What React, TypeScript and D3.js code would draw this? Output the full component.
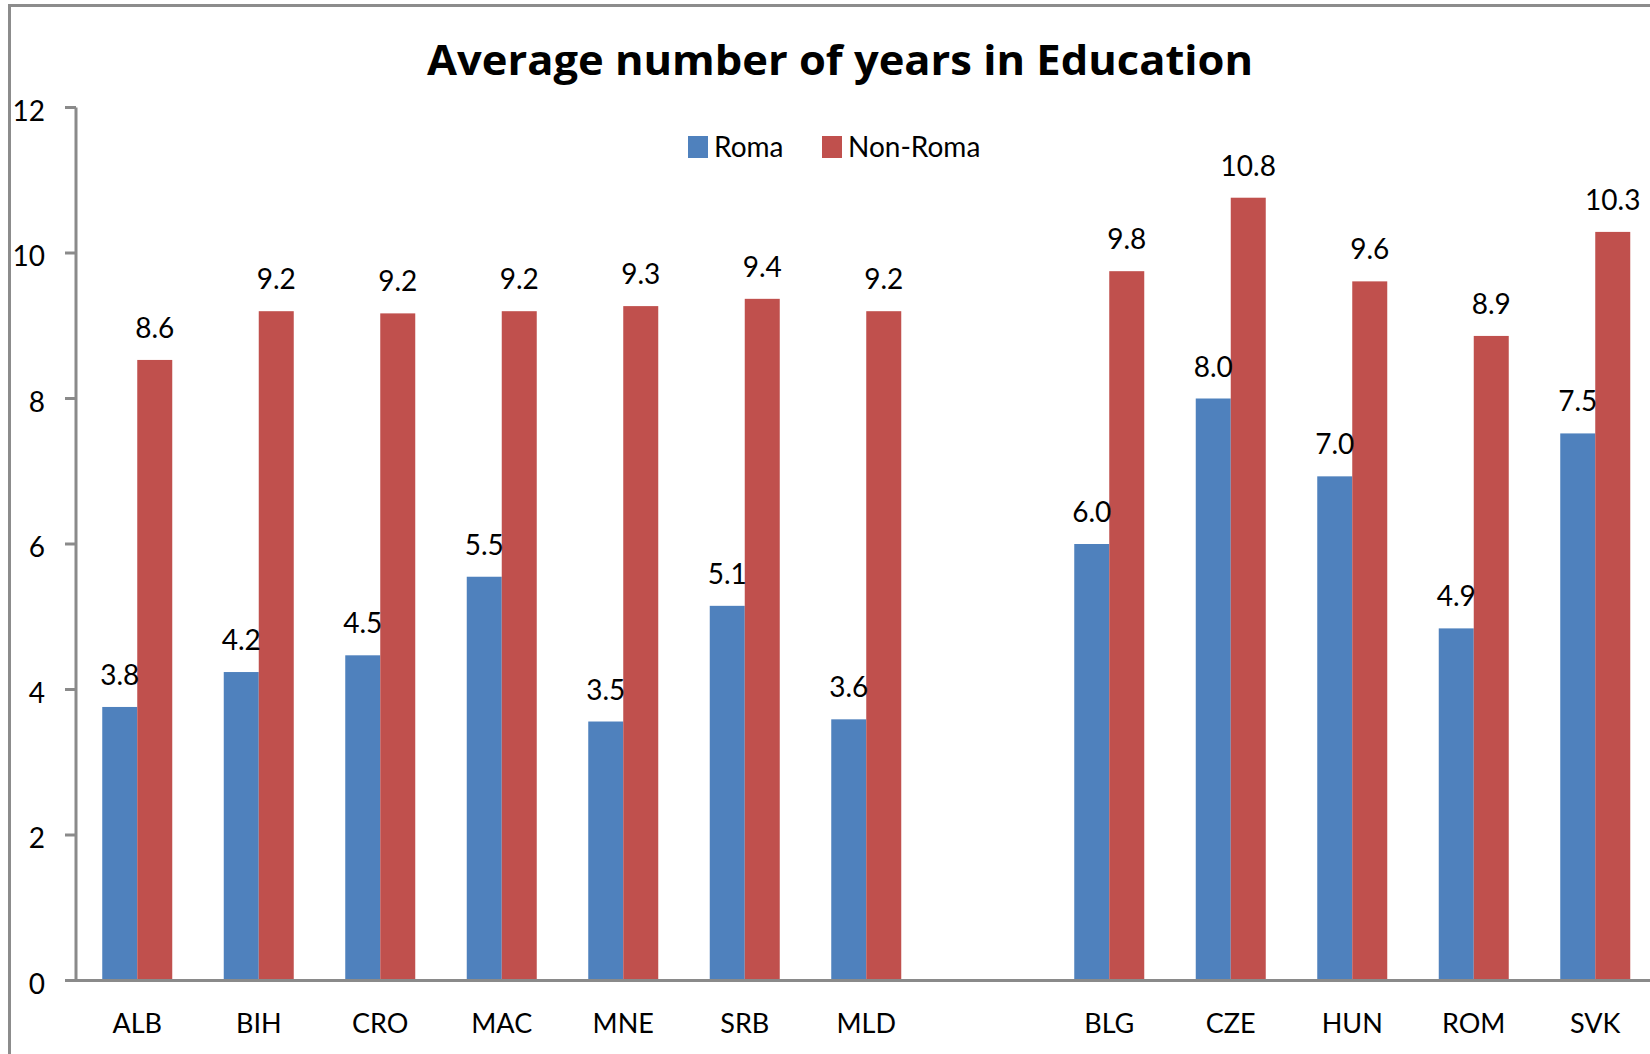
import React, { useEffect } from "react";
import * as d3 from "d3";

// ---- Data ----
const groupWest = ["ALB", "BIH", "CRO", "MAC", "MNE", "SRB", "MLD"];
const groupEU = ["BLG", "CZE", "HUN", "ROM", "SVK"];
const categories = [...groupWest, ...groupEU];
const seriesNames = ["Roma", "Non-Roma"];
const romaValues = [3.76, 4.24, 4.47, 5.55, 3.56, 5.15, 3.59, 6.0, 8.0, 6.93, 4.84, 7.52];
const nonRomaValues = [8.53, 9.2, 9.17, 9.2, 9.27, 9.37, 9.2, 9.75, 10.76, 9.61, 8.86, 10.29];
const romaLabels = ["3.8", "4.2", "4.5", "5.5", "3.5", "5.1", "3.6", "6.0", "8.0", "7.0", "4.9", "7.5"];
const nonRomaLabels = ["8.6", "9.2", "9.2", "9.2", "9.3", "9.4", "9.2", "9.8", "10.8", "9.6", "8.9", "10.3"];
const yTicks = [0, 2, 4, 6, 8, 10, 12];
const title = "Average number of years in Education";

const W = 1650;
const H = 1054;
const FONT = "Lato, 'Open Sans', sans-serif";
const TITLE_FONT = "'Open Sans', Lato, sans-serif";
const COLORS = ["#4f81bd", "#c0504d"];
const AXIS = "#8a8a8a";

export default function App() {
  useEffect(() => {
    document.body.style.margin = "0";
    document.body.style.overflow = "hidden";
  }, []);

  const slots = [...groupWest, "__gap__", ...groupEU];
  const x0 = d3.scaleBand<string>().domain(slots).range([76.5, 76.5 + 121.5 * slots.length]).padding(0);
  const barW = 35;
  const x1 = d3
    .scaleBand<string>()
    .domain(seriesNames)
    .range([x0.bandwidth() / 2 - barW, x0.bandwidth() / 2 + barW])
    .padding(0);
  const y = d3.scaleLinear().domain([0, 12]).range([980.5, 107.5]);

  const series = [
    { name: seriesNames[0], values: romaValues, labels: romaLabels, color: COLORS[0] },
    { name: seriesNames[1], values: nonRomaValues, labels: nonRomaLabels, color: COLORS[1] },
  ];

  return (
    <svg width={W} height={H} style={{ display: "block", background: "#fff" }} fontFamily={FONT}>
      <rect x={0} y={0} width={W} height={H} fill="#fff" />
      {/* outer chart border (cropped on right/bottom) */}
      <rect x={9.5} y={5.5} width={W + 50} height={H + 50} fill="none" stroke="#8c8c8c" strokeWidth={3} />

      {/* title */}
      <text
        x={840}
        y={75}
        textAnchor="middle"
        fontWeight="bold"
        fontSize={42}
        fontFamily={TITLE_FONT}
        textLength={826}
        lengthAdjust="spacingAndGlyphs"
        fill="#000"
      >
        {title}
      </text>

      {/* bars */}
      {series.map((s) =>
        categories.map((c, i) => {
          const bx = (x0(c) as number) + (x1(s.name) as number);
          return (
            <rect
              key={s.name + c}
              x={bx}
              y={y(s.values[i])}
              width={x1.bandwidth()}
              height={y(0) - y(s.values[i])}
              fill={s.color}
            />
          );
        })
      )}

      {/* data labels */}
      {series.map((s) =>
        categories.map((c, i) => {
          const cx = (x0(c) as number) + (x1(s.name) as number) + x1.bandwidth() / 2;
          return (
            <text key={"l" + s.name + c} x={cx} y={y(s.values[i]) - 22} textAnchor="middle" fontSize={28} fill="#000">
              {s.labels[i]}
            </text>
          );
        })
      )}

      {/* y axis */}
      <line x1={76} x2={76} y1={y(12)} y2={y(0)} stroke={AXIS} strokeWidth={3} />
      {yTicks.map((t) => (
        <g key={t}>
          <line x1={65} x2={76} y1={y(t)} y2={y(t)} stroke={AXIS} strokeWidth={3} />
          <text x={45} y={y(t) + 2} textAnchor="end" dominantBaseline="central" fontSize={28} fill="#000">
            {t}
          </text>
        </g>
      ))}

      {/* x axis */}
      <line x1={65} x2={W} y1={y(0)} y2={y(0)} stroke={AXIS} strokeWidth={3} />
      {categories.map((c) => (
        <text
          key={"x" + c}
          x={(x0(c) as number) + x0.bandwidth() / 2}
          y={1033}
          textAnchor="middle"
          fontSize={27}
          fill="#000"
        >
          {c}
        </text>
      ))}

      {/* legend */}
      <rect x={688} y={136} width={20} height={22} fill={COLORS[0]} />
      <text x={714} y={157} fontSize={28} fill="#000">
        {seriesNames[0]}
      </text>
      <rect x={822} y={136} width={20} height={22} fill={COLORS[1]} />
      <text x={848} y={157} fontSize={28} fill="#000">
        {seriesNames[1]}
      </text>
    </svg>
  );
}
